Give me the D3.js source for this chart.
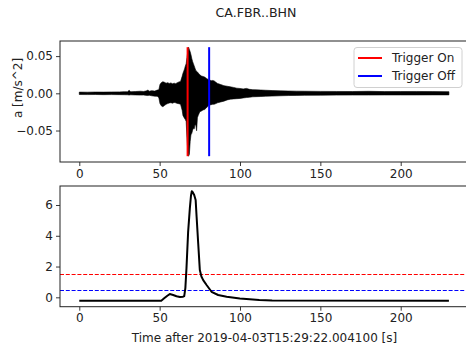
<!DOCTYPE html>
<html>
<head>
<meta charset="utf-8">
<script src="https://cdn.jsdelivr.net/npm/d3@7"></script>
<style>
  html, body { margin: 0; padding: 0; background: #fff; }
  svg { display: block; font-family: "DejaVu Sans", sans-serif; }
</style>
</head>
<body>
<svg id="chart" width="466" height="347"></svg>
<script>
// ---------------- data ----------------
const title = "CA.FBR..BHN";
const xLabel = "Time after 2019-04-03T15:29:22.004100 [s]";
const yLabelTop = "a [m/s^2]";
const xTicks = [0, 50, 100, 150, 200];
const yTicksTop = [-0.05, 0.00, 0.05];
const yTicksBottom = [0, 2, 4, 6];

// waveform envelope (time s, upper m/s^2, lower m/s^2)
const envT  = [0, 5, 10, 15, 20, 25, 28, 30, 31, 32, 35, 38, 40, 42, 42.6, 43.5, 45, 47, 48.5, 49.5, 50.2, 51, 52, 53, 54, 55, 56, 57, 58, 59, 60, 61, 62, 63, 64, 64.5, 65, 65.5, 66, 66.5, 67, 67.5, 68, 68.5, 69, 69.5, 70, 70.5, 71, 71.5, 72, 72.5, 73, 73.5, 74, 75, 76, 77, 78, 79, 80, 80.5, 81, 82, 83, 84, 85, 86, 88, 90, 92, 94, 96, 98, 100, 102, 104, 106, 108, 110, 113, 116, 120, 125, 130, 135, 140, 150, 160, 170, 180, 190, 200, 210, 220, 230];
const envHi = [0.0016, 0.0015, 0.0017, 0.0016, 0.0018, 0.0019, 0.0022, 0.0020, 0.0040, 0.0021, 0.0024, 0.0028, 0.0025, 0.0033, 0.0046, 0.0028, 0.0036, 0.0030, 0.0043, 0.0048, 0.0118, 0.0143, 0.0156, 0.0148, 0.0136, 0.0143, 0.0133, 0.0140, 0.0128, 0.0136, 0.0130, 0.0143, 0.0153, 0.0158, 0.0228, 0.0268, 0.0298, 0.0328, 0.0368, 0.0398, 0.0478, 0.0558, 0.0620, 0.0588, 0.0558, 0.0518, 0.0468, 0.0428, 0.0398, 0.0368, 0.0338, 0.0308, 0.0298, 0.0288, 0.0273, 0.0248, 0.0233, 0.0226, 0.0218, 0.0203, 0.0188, 0.0178, 0.0183, 0.0168, 0.0173, 0.0166, 0.0148, 0.0133, 0.0118, 0.0103, 0.0095, 0.0087, 0.0079, 0.0069, 0.0065, 0.0059, 0.0066, 0.0053, 0.0049, 0.0047, 0.0044, 0.0041, 0.0037, 0.0033, 0.0031, 0.0029, 0.0028, 0.0026, 0.0025, 0.0024, 0.0027, 0.0023, 0.0024, 0.0025, 0.0023, 0.0022];
const envLo = [-0.0016, -0.0017, -0.0016, -0.0018, -0.0017, -0.0018, -0.0019, -0.0020, -0.0023, -0.0020, -0.0022, -0.0024, -0.0023, -0.0028, -0.0030, -0.0026, -0.0033, -0.0038, -0.0040, -0.0058, -0.0138, -0.0168, -0.0180, -0.0163, -0.0148, -0.0138, -0.0130, -0.0126, -0.0133, -0.0123, -0.0128, -0.0136, -0.0140, -0.0148, -0.0228, -0.0298, -0.0318, -0.0338, -0.0353, -0.0378, -0.0598, -0.0778, -0.0845, -0.0818, -0.0648, -0.0558, -0.0538, -0.0498, -0.0468, -0.0478, -0.0418, -0.0428, -0.0503, -0.0328, -0.0298, -0.0248, -0.0238, -0.0223, -0.0218, -0.0198, -0.0173, -0.0163, -0.0158, -0.0153, -0.0148, -0.0146, -0.0138, -0.0128, -0.0116, -0.0105, -0.0089, -0.0079, -0.0075, -0.0072, -0.0069, -0.0062, -0.0057, -0.0052, -0.0047, -0.0045, -0.0043, -0.0039, -0.0037, -0.0033, -0.0030, -0.0028, -0.0027, -0.0025, -0.0024, -0.0023, -0.0023, -0.0022, -0.0022, -0.0022, -0.0021, -0.0021];

// characteristic function (STA/LTA)
const cfT = [0, 51, 53, 55, 56.3, 58.4, 60.5, 62.6, 64.6, 65.3, 66.0, 66.7, 67.7, 68.8, 69.5, 70.0, 70.5, 71.5, 72.4, 73.0, 74.0, 75.0, 76.0, 77.1, 79.2, 82.3, 86.4, 91.7, 99.9, 106, 112, 120, 230];
const cfV = [-0.22, -0.22, -0.05, 0.12, 0.21, 0.15, 0.07, 0.02, 0.04, 0.08, 0.6, 1.9, 4.2, 5.8, 6.6, 6.9, 6.85, 6.65, 6.33, 5.24, 3.5, 1.77, 1.35, 1.12, 0.8, 0.36, 0.15, 0.04, -0.07, -0.13, -0.18, -0.21, -0.22];

const triggerOn = 67.4;
const triggerOff = 80.8;
const thrOn = 1.5;
const thrOff = 0.5;
const legendLabels = ["Trigger On", "Trigger Off"];
const legendColors = ["#ff0000", "#0000ff"];

// ---------------- drawing ----------------
const svg = d3.select("#chart");
const FS = 12;
const ink = "#222";

const x = d3.scaleLinear().domain([-12, 241]).range([60, 466.6]);
const yTop = d3.scaleLinear().domain([-0.0923, 0.0703]).range([162, 41]);
const yBot = d3.scaleLinear().domain([-0.61, 7.235]).range([306.7, 186]);

function frame(y, top, bottom, yTicks, yFmt) {
  const g = svg.append("g");
  g.append("g").attr("transform", `translate(0,${bottom})`)
    .call(d3.axisBottom(x).tickValues(xTicks).tickSize(4).tickPadding(3).tickFormat(d3.format("d")));
  g.append("g").attr("transform", `translate(60,0)`)
    .call(d3.axisLeft(y).tickValues(yTicks).tickSize(4).tickPadding(3).tickFormat(yFmt));
  g.selectAll(".domain").remove();
  g.selectAll(".tick line").attr("stroke", ink).attr("stroke-width", 0.9);
  g.selectAll(".tick text").attr("font-size", FS).attr("fill", ink)
    .attr("font-family", "DejaVu Sans, sans-serif");
  return g;
}
function box(top, bottom) {
  svg.append("rect").attr("x", 60).attr("y", top)
    .attr("width", x.range()[1] - 60).attr("height", bottom - top)
    .attr("fill", "none").attr("stroke", ink).attr("stroke-width", 1);
}

// top panel
frame(yTop, 41, 162, yTicksTop, d3.format(".2f"));
const env = envT.map((t, i) => ({t, hi: envHi[i], lo: envLo[i]}));
svg.append("path").datum(env)
  .attr("d", d3.area().x(d => x(d.t)).y0(d => yTop(d.lo)).y1(d => yTop(d.hi)))
  .attr("fill", "#000").attr("stroke", "#000").attr("stroke-width", 0.6).attr("stroke-linejoin", "round");
const ymin = d3.min(envLo), ymax = d3.max(envHi);
[triggerOn, triggerOff].forEach((t, i) => {
  svg.append("line").attr("x1", x(t)).attr("x2", x(t))
    .attr("y1", yTop(ymin)).attr("y2", yTop(ymax))
    .attr("stroke", legendColors[i]).attr("stroke-width", 2);
});
box(41, 162);

// legend
const lg = svg.append("g");
lg.append("rect").attr("x", 354).attr("y", 47.5).attr("width", 108).attr("height", 40)
  .attr("rx", 3).attr("fill", "#fff").attr("fill-opacity", 0.8)
  .attr("stroke", "#d0d0d0").attr("stroke-width", 1);
legendLabels.forEach((lab, i) => {
  const yy = 58 + i * 18;
  lg.append("line").attr("x1", 358).attr("x2", 382).attr("y1", yy).attr("y2", yy)
    .attr("stroke", legendColors[i]).attr("stroke-width", 2);
  lg.append("text").attr("x", 392).attr("y", yy).attr("dy", "0.35em")
    .attr("font-size", FS).attr("fill", ink).text(lab);
});

// bottom panel
frame(yBot, 186, 306.7, yTicksBottom, d3.format("d"));
[[thrOn, legendColors[0]], [thrOff, legendColors[1]]].forEach(([v, c]) => {
  const yy = Math.round(yBot(v)) + 0.5;
  svg.append("line").attr("x1", 60).attr("x2", x.range()[1])
    .attr("y1", yy).attr("y2", yy)
    .attr("stroke", c).attr("stroke-width", 1.1).attr("stroke-dasharray", "4,1.8");
});
svg.append("path").datum(cfT.map((t, i) => [t, cfV[i]]))
  .attr("d", d3.line().x(d => x(d[0])).y(d => yBot(d[1])))
  .attr("fill", "none").attr("stroke", "#000").attr("stroke-width", 2).attr("stroke-linejoin", "round");
box(186, 306.7);

// texts
svg.append("text").attr("x", 256).attr("y", 13).attr("dy", "0.35em")
  .attr("text-anchor", "middle").attr("font-size", 12.6).attr("fill", ink).text(title);
svg.append("text").attr("transform", "translate(18,88) rotate(-90)").attr("dy", "0.35em")
  .attr("text-anchor", "middle").attr("font-size", FS).attr("fill", ink).text(yLabelTop);
svg.append("text").attr("x", 264.5).attr("y", 338).attr("dy", "0.35em")
  .attr("text-anchor", "middle").attr("font-size", FS).attr("fill", ink).text(xLabel);
</script>
</body>
</html>
